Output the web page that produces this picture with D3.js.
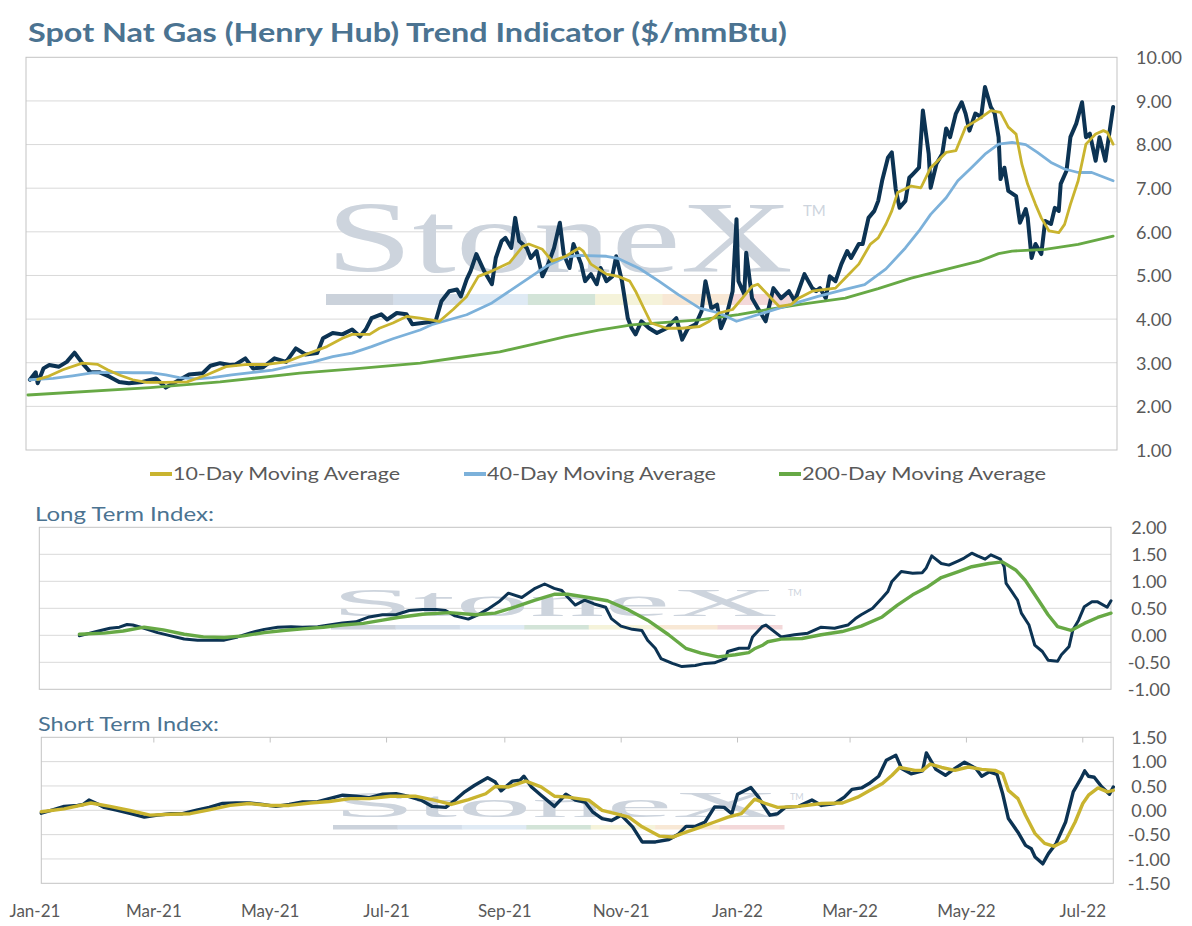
<!DOCTYPE html>
<html>
<head>
<meta charset="utf-8">
<script src="https://cdnjs.cloudflare.com/ajax/libs/d3/7.8.5/d3.min.js"></script>
<style>
  body { margin: 0; background: #fff; }
  text { font-family: Lato, "Open Sans", sans-serif; }
</style>
</head>
<body>
<div class="chart"></div>
<script>
// day offsets are counted from 1 Jan 2021
var startDate = new Date(2021, 0, 1);
var endDay = 562;

// spot price, $/mmBtu
var spotDays = [2, 5, 6, 9, 12, 17, 21, 25, 29, 33, 38, 43, 48, 53, 60, 67, 72, 78, 84, 91, 95, 100, 105, 108, 113, 117, 122, 128, 134, 139, 144, 150, 153, 158, 163, 168, 172, 175, 178, 183, 186, 191, 196, 199, 204, 211, 214, 218, 222, 224, 227, 229, 232, 236, 240, 242, 245, 247, 250, 252, 254, 258, 260, 263, 266, 269, 272, 275, 277, 280, 282, 286, 288, 291, 294, 296, 299, 302, 304, 307, 310, 312, 314, 317, 321, 325, 330, 335, 338, 341, 345, 348, 350, 353, 356, 358, 361, 364, 366, 367, 370, 371, 374, 377, 381, 385, 389, 393, 396, 401, 405, 407, 409, 412, 414, 417, 420, 423, 425, 429, 431, 434, 437, 439, 441, 444, 446, 448, 450, 453, 455, 457, 460, 462, 465, 466, 469, 472, 474, 476, 479, 482, 484, 486, 489, 492, 494, 497, 499, 501, 502, 504, 506, 510, 512, 515, 516, 518, 520, 523, 525, 528, 530, 532, 533, 536, 538, 541, 544, 546, 548, 551, 553, 556, 557, 560];
var spotValues = [2.61, 2.78, 2.53, 2.87, 2.95, 2.91, 3.02, 3.23, 2.99, 2.79, 2.78, 2.68, 2.56, 2.53, 2.56, 2.64, 2.43, 2.58, 2.73, 2.76, 2.93, 2.99, 2.95, 2.96, 3.10, 2.87, 2.89, 3.10, 3.02, 3.33, 3.19, 3.22, 3.56, 3.68, 3.65, 3.76, 3.60, 3.76, 4.02, 4.11, 3.99, 4.14, 4.11, 3.88, 3.91, 3.95, 4.41, 4.64, 4.68, 4.52, 4.91, 5.10, 5.49, 5.10, 4.80, 5.40, 5.79, 5.86, 5.63, 6.32, 5.79, 5.63, 5.40, 5.56, 4.98, 5.26, 5.63, 6.21, 5.49, 5.17, 5.72, 5.26, 4.87, 5.03, 4.80, 5.17, 4.87, 4.98, 5.44, 4.87, 4.02, 3.79, 3.65, 3.95, 3.79, 3.68, 3.79, 4.02, 3.53, 3.79, 3.88, 4.18, 4.87, 4.25, 4.33, 3.79, 4.11, 4.64, 6.29, 4.87, 4.57, 5.52, 4.48, 4.25, 3.95, 4.71, 4.48, 4.64, 4.41, 5.03, 4.71, 4.64, 4.71, 4.48, 4.98, 4.87, 5.26, 5.56, 5.40, 5.72, 5.72, 6.32, 6.48, 6.71, 7.17, 7.70, 7.82, 6.98, 6.55, 6.71, 7.24, 7.33, 7.47, 8.78, 7.79, 7.01, 7.56, 7.79, 8.37, 8.17, 8.71, 8.97, 8.71, 8.32, 8.71, 8.63, 9.32, 8.86, 8.71, 8.17, 7.21, 7.47, 6.94, 6.82, 6.21, 6.52, 6.32, 5.40, 5.72, 5.49, 6.25, 6.18, 6.55, 6.48, 7.10, 7.40, 8.17, 8.48, 8.97, 8.17, 8.25, 7.63, 8.17, 7.63, 7.94, 8.86];

// 10-day moving average
var ma10Days = [6, 11, 19, 29, 37, 42, 48, 55, 62, 72, 83, 93, 103, 114, 124, 134, 144, 155, 163, 168, 177, 182, 189, 196, 203, 213, 220, 227, 233, 240, 249, 256, 259, 266, 271, 278, 285, 287, 291, 299, 305, 311, 314, 319, 322, 330, 338, 347, 352, 357, 364, 369, 374, 377, 383, 388, 394, 398, 405, 417, 422, 429, 435, 439, 443, 446, 449, 456, 461, 466, 474, 479, 484, 491, 497, 502, 506, 510, 513, 516, 520, 523, 527, 532, 535, 538, 542, 546, 551, 555, 557, 560];
var ma10Values = [2.62, 2.68, 2.84, 2.99, 2.96, 2.84, 2.72, 2.61, 2.55, 2.55, 2.56, 2.72, 2.91, 2.96, 2.96, 3.02, 3.19, 3.37, 3.56, 3.65, 3.65, 3.79, 3.91, 4.06, 4.02, 3.95, 4.22, 4.52, 4.98, 5.10, 5.29, 5.67, 5.72, 5.60, 5.33, 5.44, 5.63, 5.56, 5.26, 5.03, 4.98, 4.87, 4.64, 4.18, 3.91, 3.79, 3.79, 3.83, 3.95, 4.14, 4.22, 4.48, 4.75, 4.80, 4.52, 4.29, 4.33, 4.48, 4.64, 4.71, 4.94, 5.26, 5.72, 5.86, 6.18, 6.48, 6.90, 7.05, 7.01, 7.47, 7.82, 7.86, 8.40, 8.59, 8.78, 8.74, 8.40, 8.24, 7.55, 7.09, 6.63, 6.32, 6.02, 5.98, 6.17, 6.63, 7.17, 8.01, 8.24, 8.32, 8.28, 8.01];

// 40-day moving average
var ma40Days = [2, 14, 24, 34, 45, 55, 65, 72, 79, 88, 96, 106, 117, 127, 137, 148, 158, 168, 178, 189, 203, 209, 227, 240, 254, 268, 278, 285, 299, 305, 316, 326, 336, 347, 357, 366, 374, 388, 398, 408, 422, 432, 443, 453, 460, 466, 474, 480, 487, 494, 501, 508, 515, 521, 528, 535, 542, 549, 556, 560];
var ma40Values = [2.61, 2.64, 2.70, 2.77, 2.78, 2.77, 2.77, 2.72, 2.66, 2.63, 2.66, 2.72, 2.78, 2.83, 2.93, 3.02, 3.14, 3.22, 3.37, 3.55, 3.75, 3.87, 4.10, 4.37, 4.79, 5.21, 5.42, 5.46, 5.44, 5.39, 5.16, 4.87, 4.56, 4.25, 4.14, 3.95, 4.06, 4.25, 4.39, 4.52, 4.68, 4.79, 5.15, 5.63, 6.02, 6.40, 6.78, 7.17, 7.47, 7.78, 8.01, 8.05, 8.00, 7.82, 7.59, 7.44, 7.36, 7.36, 7.24, 7.17];

// 200-day moving average
var ma200Days = [1, 64, 100, 141, 172, 203, 223, 244, 261, 278, 295, 312, 347, 367, 381, 398, 422, 439, 456, 475, 491, 501, 508, 525, 542, 560];
var ma200Values = [2.26, 2.43, 2.56, 2.76, 2.87, 2.99, 3.12, 3.25, 3.42, 3.60, 3.75, 3.87, 3.98, 4.10, 4.21, 4.33, 4.48, 4.70, 4.94, 5.15, 5.33, 5.50, 5.56, 5.60, 5.71, 5.90];

// long term index and its average
var longDays = [21, 30, 37, 42, 46, 49, 55, 62, 69, 76, 83, 90, 97, 104, 111, 118, 125, 132, 138, 146, 152, 159, 166, 173, 180, 187, 194, 201, 208, 213, 218, 225, 230, 235, 241, 246, 253, 260, 265, 270, 274, 277, 281, 286, 291, 297, 300, 305, 311, 316, 319, 323, 326, 332, 337, 344, 349, 354, 360, 361, 367, 372, 374, 379, 381, 389, 396, 403, 410, 417, 424, 428, 431, 437, 442, 445, 447, 452, 458, 463, 465, 468, 473, 477, 482, 485, 489, 492, 496, 499, 504, 506, 507, 510, 513, 515, 519, 522, 526, 529, 534, 536, 540, 542, 545, 548, 552, 555, 560, 562];
var longValues = [-0.01, 0.07, 0.13, 0.15, 0.20, 0.19, 0.13, 0.05, -0.01, -0.07, -0.09, -0.09, -0.09, -0.03, 0.05, 0.11, 0.15, 0.16, 0.15, 0.16, 0.19, 0.23, 0.25, 0.34, 0.38, 0.38, 0.46, 0.48, 0.48, 0.46, 0.36, 0.30, 0.38, 0.48, 0.62, 0.78, 0.70, 0.87, 0.95, 0.87, 0.83, 0.71, 0.56, 0.65, 0.58, 0.52, 0.31, 0.17, 0.11, 0.09, -0.09, -0.24, -0.43, -0.52, -0.58, -0.56, -0.52, -0.51, -0.43, -0.30, -0.24, -0.24, -0.03, 0.16, 0.19, -0.03, 0.01, 0.04, 0.15, 0.13, 0.19, 0.31, 0.38, 0.50, 0.69, 0.81, 0.99, 1.18, 1.15, 1.16, 1.24, 1.47, 1.33, 1.30, 1.38, 1.43, 1.52, 1.47, 1.41, 1.49, 1.41, 1.27, 0.96, 0.81, 0.65, 0.41, 0.19, -0.18, -0.30, -0.46, -0.48, -0.36, -0.21, 0.10, 0.28, 0.53, 0.62, 0.62, 0.52, 0.64];
var longAvgDays = [21, 34, 44, 55, 65, 76, 86, 97, 107, 118, 128, 138, 149, 159, 170, 180, 188, 201, 215, 229, 239, 250, 260, 270, 277, 288, 298, 309, 319, 330, 339, 347, 356, 365, 372, 375, 379, 382, 389, 400, 410, 421, 431, 442, 450, 458, 466, 473, 482, 489, 498, 505, 512, 517, 524, 529, 534, 541, 548, 555, 562];
var longAvgValues = [0.02, 0.04, 0.08, 0.15, 0.10, 0.02, -0.03, -0.04, -0.01, 0.05, 0.09, 0.12, 0.15, 0.19, 0.22, 0.28, 0.33, 0.39, 0.42, 0.38, 0.41, 0.53, 0.65, 0.76, 0.76, 0.70, 0.64, 0.47, 0.28, 0.01, -0.24, -0.33, -0.40, -0.36, -0.32, -0.25, -0.19, -0.12, -0.07, -0.06, 0.01, 0.07, 0.17, 0.34, 0.56, 0.75, 0.90, 1.07, 1.18, 1.27, 1.33, 1.36, 1.21, 1.02, 0.65, 0.38, 0.16, 0.09, 0.22, 0.33, 0.41];

// short term index and its average
var shortDays = [0, 6, 12, 19, 22, 25, 29, 33, 40, 47, 54, 61, 68, 74, 82, 88, 95, 102, 109, 116, 123, 130, 137, 144, 151, 158, 165, 172, 179, 186, 192, 199, 205, 212, 217, 222, 227, 234, 238, 241, 247, 251, 253, 257, 262, 269, 275, 280, 285, 289, 294, 299, 304, 310, 315, 322, 329, 334, 338, 343, 348, 353, 358, 362, 365, 372, 376, 379, 382, 386, 390, 397, 404, 409, 416, 421, 425, 430, 434, 439, 443, 448, 451, 456, 462, 464, 469, 474, 479, 484, 490, 493, 497, 501, 504, 507, 512, 516, 519, 521, 525, 528, 532, 537, 541, 545, 547, 549, 552, 556, 560, 562];
var shortValues = [-0.06, 0.01, 0.08, 0.10, 0.12, 0.21, 0.14, 0.06, 0.00, -0.07, -0.14, -0.10, -0.07, -0.07, 0.01, 0.06, 0.14, 0.15, 0.15, 0.12, 0.08, 0.12, 0.17, 0.17, 0.24, 0.31, 0.29, 0.26, 0.33, 0.34, 0.29, 0.21, 0.08, 0.06, 0.21, 0.38, 0.51, 0.67, 0.58, 0.40, 0.60, 0.62, 0.70, 0.48, 0.31, 0.08, 0.33, 0.21, 0.17, -0.03, -0.17, -0.21, -0.10, -0.34, -0.65, -0.65, -0.60, -0.49, -0.33, -0.33, -0.24, 0.07, 0.06, -0.07, 0.33, 0.47, 0.27, 0.07, -0.10, -0.07, 0.06, 0.08, 0.21, 0.10, 0.14, 0.27, 0.43, 0.46, 0.55, 0.70, 1.03, 1.13, 0.86, 0.75, 0.81, 1.18, 0.84, 0.72, 0.86, 0.99, 0.86, 0.70, 0.79, 0.74, 0.34, -0.17, -0.45, -0.72, -0.79, -0.96, -1.10, -0.89, -0.68, -0.24, 0.38, 0.65, 0.81, 0.70, 0.68, 0.48, 0.33, 0.48];
var shortAvgDays = [0, 12, 26, 36, 47, 57, 68, 78, 88, 99, 109, 120, 130, 141, 151, 162, 172, 183, 196, 206, 215, 224, 233, 238, 245, 254, 262, 269, 276, 287, 294, 301, 308, 315, 324, 331, 338, 346, 353, 360, 367, 374, 379, 386, 397, 409, 420, 428, 434, 441, 446, 450, 458, 462, 466, 472, 479, 486, 493, 500, 504, 507, 512, 516, 521, 526, 531, 537, 542, 546, 549, 554, 559, 562];
var shortAvgValues = [-0.03, 0.03, 0.15, 0.08, -0.01, -0.10, -0.08, -0.07, 0.01, 0.10, 0.14, 0.10, 0.10, 0.15, 0.18, 0.24, 0.24, 0.29, 0.29, 0.21, 0.12, 0.22, 0.34, 0.49, 0.48, 0.60, 0.48, 0.29, 0.27, 0.21, 0.00, -0.07, -0.14, -0.34, -0.53, -0.55, -0.45, -0.34, -0.24, -0.14, -0.07, 0.23, 0.15, 0.06, 0.08, 0.14, 0.15, 0.27, 0.40, 0.55, 0.72, 0.88, 0.82, 0.82, 0.95, 0.88, 0.82, 0.89, 0.84, 0.82, 0.75, 0.41, 0.24, -0.10, -0.48, -0.68, -0.74, -0.62, -0.24, 0.14, 0.31, 0.46, 0.38, 0.41];

// axis ticks
var priceTicks = [1, 2, 3, 4, 5, 6, 7, 8, 9, 10];
var longTicks = [-1, -0.5, 0, 0.5, 1, 1.5, 2];
var shortTicks = [-1.5, -1, -0.5, 0, 0.5, 1, 1.5];
var legendLabels = ["10-Day Moving Average", "40-Day Moving Average", "200-Day Moving Average"];

var navy = "#0c3353", gold = "#c9b42f", lightBlue = "#7cb1da", green = "#67a945";
var titleColor = "#4b7391", labelColor = "#595959";
var gridColor = "#d9d9d9", borderColor = "#c3c3c3";

var fmt = d3.formatLocale({decimal: ".", thousands: ",", grouping: [3], currency: ["$", ""], minus: "-"}).format(".2f");

function toDate(day) {
  return d3.timeDay.offset(startDate, day);
}

var svg = d3.select(".chart")
  .append("svg")
  .attr("width", 1192)
  .attr("height", 926);

// StoneX watermark stretched into a box, with the colour bar under it
function watermark(x0, x1, capTop, baseline, barTop, barHeight, tmSize) {
  var g = svg.append("g").attr("class", "watermark");
  var fontSize = (baseline - capTop) / 0.66;
  g.append("text")
    .attr("x", x0)
    .attr("y", baseline)
    .attr("textLength", x1 - x0)
    .attr("lengthAdjust", "spacingAndGlyphs")
    .style("font-family", "'Liberation Serif', 'DejaVu Serif', serif")
    .style("font-size", fontSize + "px")
    .attr("fill", "#cdd4dd")
    .text("StoneX");
  g.append("text")
    .attr("x", x1 + 10)
    .attr("y", capTop + tmSize * 0.7)
    .style("font-size", tmSize + "px")
    .attr("fill", "#cdd4dd")
    .text("TM");
  var barColors = ["#cbd2db", "#d3dde9", "#dfeaf4", "#d3e4d8", "#f5f3da", "#f8e8d5", "#f3d8d9"];
  var segment = (x1 - x0 + 4) / barColors.length;
  g.selectAll("rect")
    .data(barColors)
    .enter().append("rect")
      .attr("x", function(d, i) { return x0 + i * segment; })
      .attr("y", barTop)
      .attr("width", segment + 0.5)
      .attr("height", barHeight)
      .attr("fill", function(d) { return d; });
}

function addLine(x, y, days, values, color, width) {
  var line = d3.line()
    .x(function(d) { return x(toDate(d)); })
    .y(function(d, i) { return y(values[i]); });
  svg.append("path")
    .attr("d", line(days))
    .attr("fill", "none")
    .attr("stroke", color)
    .attr("stroke-width", width)
    .attr("stroke-linejoin", "round")
    .attr("stroke-linecap", "round");
}

// grid, frame and right-hand value axis of one panel
function panelFrame(x, y, ticks, labelX, anchor) {
  var left = x.range()[0], right = x.range()[1];
  svg.append("g")
    .selectAll("line")
    .data(ticks.slice(1, -1))
    .enter().append("line")
      .attr("x1", left)
      .attr("x2", right)
      .attr("y1", function(d) { return y(d); })
      .attr("y2", function(d) { return y(d); })
      .attr("stroke", gridColor)
      .attr("stroke-width", 1);
  svg.append("rect")
    .attr("x", left)
    .attr("y", y.range()[1])
    .attr("width", right - left)
    .attr("height", y.range()[0] - y.range()[1])
    .attr("fill", "none")
    .attr("stroke", borderColor)
    .attr("stroke-width", 1);
  var axis = svg.append("g")
    .attr("transform", "translate(" + right + ",0)")
    .call(d3.axisRight(y).tickValues(ticks).tickFormat(fmt).tickSize(0).tickPadding(labelX - right));
  axis.select(".domain").remove();
  axis.selectAll("text")
    .attr("text-anchor", anchor)
    .attr("dy", "0.35em")
    .style("font-family", "Lato, sans-serif")
    .style("font-size", "18px")
    .attr("fill", labelColor);
}

// ---------- top panel: spot price and moving averages ----------
var xTop = d3.scaleTime().domain([startDate, toDate(endDay)]).range([26, 1117]);
var yTop = d3.scaleLinear().domain([1, 10]).range([450, 57.3]);

svg.append("text")
  .attr("x", 28)
  .attr("y", 42)
  .attr("textLength", 759)
  .attr("lengthAdjust", "spacingAndGlyphs")
  .style("font-size", "27px")
  .style("font-weight", "bold")
  .attr("fill", titleColor)
  .text("Spot Nat Gas (Henry Hub) Trend Indicator ($/mmBtu)");

panelFrame(xTop, yTop, priceTicks, 1136, "start");
watermark(326, 793, 205, 272, 294, 11, 15);

addLine(xTop, yTop, spotDays, spotValues, navy, 4);
addLine(xTop, yTop, ma200Days, ma200Values, green, 2.8);
addLine(xTop, yTop, ma40Days, ma40Values, lightBlue, 2.8);
addLine(xTop, yTop, ma10Days, ma10Values, gold, 2.8);

// legend
var legendColors = [gold, lightBlue, green];
var legendX = [150, 464, 779];
var legendWidths = [227, 229, 244];
var legend = svg.append("g")
  .selectAll("g")
  .data(legendLabels)
  .enter().append("g")
    .attr("transform", function(d, i) { return "translate(" + legendX[i] + ",474)"; });
legend.append("line")
  .attr("x1", 0)
  .attr("x2", 22)
  .attr("stroke", function(d, i) { return legendColors[i]; })
  .attr("stroke-width", 4);
legend.append("text")
  .attr("x", 23)
  .attr("dy", "0.35em")
  .attr("textLength", function(d, i) { return legendWidths[i]; })
  .attr("lengthAdjust", "spacingAndGlyphs")
  .style("font-size", "17px")
  .attr("fill", labelColor)
  .text(function(d) { return d; });

// ---------- middle panel: long term index ----------
var xLong = d3.scaleTime().domain([startDate, toDate(endDay)]).range([39.3, 1111]);
var yLong = d3.scaleLinear().domain([-1, 2]).range([689.3, 527.3]);

svg.append("text")
  .attr("x", 35)
  .attr("y", 521)
  .attr("textLength", 179)
  .attr("lengthAdjust", "spacingAndGlyphs")
  .style("font-size", "19px")
  .attr("fill", titleColor)
  .text("Long Term Index:");

panelFrame(xLong, yLong, longTicks, 1149, "middle");
watermark(331, 778, 590, 616, 625, 4.5, 9);

addLine(xLong, yLong, longDays, longValues, navy, 3);
addLine(xLong, yLong, longAvgDays, longAvgValues, green, 3.4);

// ---------- bottom panel: short term index ----------
var xShort = d3.scaleTime().domain([startDate, toDate(endDay)]).range([41.3, 1113.3]);
var yShort = d3.scaleLinear().domain([-1.5, 1.5]).range([883.3, 737.3]);

svg.append("text")
  .attr("x", 38)
  .attr("y", 731)
  .attr("textLength", 181)
  .attr("lengthAdjust", "spacingAndGlyphs")
  .style("font-size", "19px")
  .attr("fill", titleColor)
  .text("Short Term Index:");

panelFrame(xShort, yShort, shortTicks, 1149, "middle");
watermark(333, 780, 794, 817, 825, 4.5, 9);

addLine(xShort, yShort, shortDays, shortValues, navy, 3.4);
addLine(xShort, yShort, shortAvgDays, shortAvgValues, gold, 3.4);

// month ticks on the top edge of the bottom panel, labels below it
var months = d3.timeMonth.every(2).range(startDate, toDate(endDay));
svg.append("g")
  .selectAll("line")
  .data(months.slice(1))
  .enter().append("line")
    .attr("x1", function(d) { return xShort(d); })
    .attr("x2", function(d) { return xShort(d); })
    .attr("y1", 737.3)
    .attr("y2", 742.5)
    .attr("stroke", borderColor);
svg.append("g")
  .selectAll("text")
  .data(months)
  .enter().append("text")
    .attr("x", function(d, i) { return i === 0 ? 35 : xShort(d); })
    .attr("y", 917)
    .attr("text-anchor", "middle")
    .style("font-size", "17px")
    .attr("fill", labelColor)
    .text(d3.timeFormat("%b-%y"));
</script>
</body>
</html>
